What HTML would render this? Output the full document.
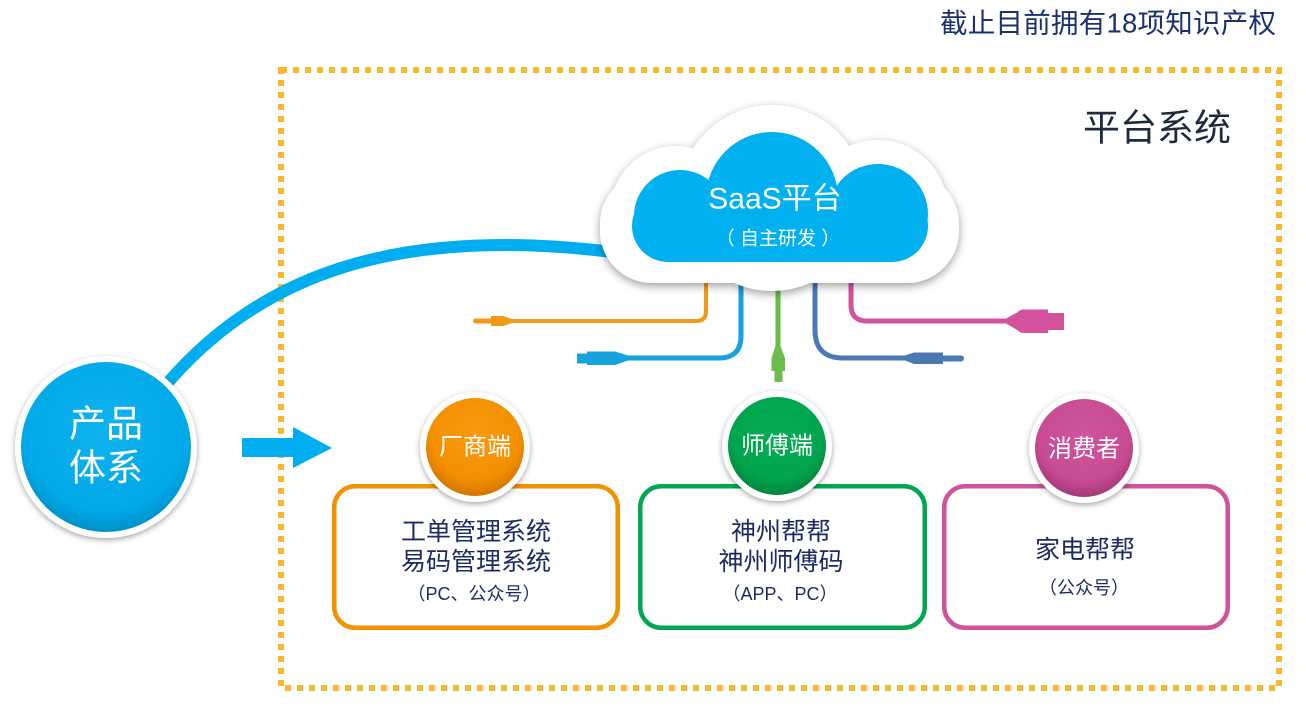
<!DOCTYPE html>
<html>
<head>
<meta charset="utf-8">
<style>
html,body{margin:0;padding:0;background:#fff;}
body{width:1306px;height:706px;overflow:hidden;}
svg{display:block;}
text{font-family:"Liberation Sans","Noto Sans CJK SC",sans-serif;white-space:pre;}
</style>
</head>
<body>
<svg width="1306" height="706" viewBox="0 0 1306 706" xmlns="http://www.w3.org/2000/svg">
<defs>
  <filter id="sh" x="-20%" y="-20%" width="140%" height="150%">
    <feDropShadow dx="0" dy="3" stdDeviation="4.5" flood-color="#000" flood-opacity="0.38"/>
  </filter>
  <filter id="csh" x="-30%" y="-30%" width="160%" height="160%">
    <feDropShadow dx="0" dy="2" stdDeviation="3" flood-color="#000" flood-opacity="0.35"/>
  </filter>
  <radialGradient id="gBlue" cx="50%" cy="40%" r="60%">
    <stop offset="0" stop-color="#0fb3ee"/>
    <stop offset="0.8" stop-color="#00a9e8"/>
    <stop offset="1" stop-color="#0090c8"/>
  </radialGradient>
  <radialGradient id="gOr" cx="50%" cy="38%" r="60%">
    <stop offset="0" stop-color="#f99a12"/>
    <stop offset="0.75" stop-color="#f39000"/>
    <stop offset="1" stop-color="#d67800"/>
  </radialGradient>
  <radialGradient id="gGr" cx="50%" cy="38%" r="60%">
    <stop offset="0" stop-color="#03ad55"/>
    <stop offset="0.75" stop-color="#00a54e"/>
    <stop offset="1" stop-color="#008a40"/>
  </radialGradient>
  <radialGradient id="gPk" cx="50%" cy="38%" r="60%">
    <stop offset="0" stop-color="#d0549b"/>
    <stop offset="0.75" stop-color="#c84c94"/>
    <stop offset="1" stop-color="#a83a7b"/>
  </radialGradient>
  <clipPath id="clipIn"><rect x="600" y="100" width="360" height="162"/></clipPath>
</defs>

<!-- top right text -->
<text x="1276" y="23" text-anchor="end" dominant-baseline="central" font-size="27.5" fill="#1a3170" textLength="336" lengthAdjust="spacing">截止目前拥有18项知识产权</text>

<!-- dotted frame -->
<rect x="281" y="70" width="998" height="618" fill="none" stroke="#f9b82a" stroke-width="6" stroke-dasharray="6 6"/>

<text x="1083" y="128" dominant-baseline="central" font-size="37" fill="#1e2b3c">平台系统</text>

<!-- big blue curve -->
<path d="M 160 392 C 258 272, 400 226, 612 252" fill="none" stroke="#00aeef" stroke-width="12"/>

<!-- cables -->
<!-- orange -->
<path d="M 706 270 L 706 311 Q 706 321 696 321 L 505 321" fill="none" stroke="#f29a15" stroke-width="4"/>
<path d="M 512 319 L 503 316 L 491 316 L 491 326 L 503 326 L 512 323 Z" fill="#f29a15"/>
<rect x="473" y="318.5" width="22" height="5" rx="2.5" fill="#f29a15"/>
<!-- light blue -->
<path d="M 741 270 L 741 336 Q 741 358 719 358 L 612 358" fill="none" stroke="#16a2dc" stroke-width="5"/>
<path d="M 628 355.5 L 615 351.5 L 587 351.5 L 587 365 L 615 365 L 628 360.5 Z" fill="#16a2dc"/>
<rect x="577" y="353.5" width="12" height="10" fill="#16a2dc"/>
<!-- green -->
<path d="M 778 270 L 778 352" fill="none" stroke="#6abd4a" stroke-width="5"/>
<path d="M 775.5 346 L 771.5 358 L 771.5 371 L 785 371 L 785 358 L 780.5 346 Z" fill="#6abd4a"/>
<rect x="774.5" y="370" width="8" height="12" fill="#6abd4a"/>
<!-- dark blue -->
<path d="M 815 270 L 815 330 Q 815 358 843 358 L 915 358" fill="none" stroke="#4a79b4" stroke-width="5"/>
<path d="M 905 355.5 L 914 352.5 L 943 352.5 L 943 364 L 914 364 L 905 360.5 Z" fill="#4a79b4"/>
<rect x="940" y="355.5" width="24" height="6" rx="3" fill="#4a79b4"/>
<!-- pink -->
<path d="M 851 270 L 851 305 Q 851 321 867 321 L 1012 321" fill="none" stroke="#d4519b" stroke-width="5"/>
<path d="M 1006 318.5 L 1018 312 Q 1020 309.5 1024 309.5 L 1048 309.5 L 1048 333 L 1024 333 Q 1020 333 1018 330.5 L 1006 323.5 Z" fill="#d4519b"/>
<rect x="1047" y="313" width="17" height="17" fill="#d4519b"/>

<!-- cloud outer -->
<g filter="url(#sh)" fill="#ffffff">
  <rect x="600" y="172" width="359" height="111" rx="52"/>
  <circle cx="676" cy="212" r="66"/>
  <circle cx="772" cy="198" r="93"/>
  <circle cx="878" cy="210" r="70"/>
</g>
<!-- cloud inner -->
<g fill="#00b0ef" clip-path="url(#clipIn)">
  <rect x="632" y="190" width="296" height="72" rx="36"/>
  <circle cx="680" cy="216" r="46"/>
  <circle cx="772" cy="198" r="66"/>
  <circle cx="878" cy="214" r="50"/>
  <rect x="680" y="200" width="200" height="62"/>
</g>
<text x="775" y="199" text-anchor="middle" dominant-baseline="central" font-size="30" fill="#ffffff">SaaS平台</text>
<text x="778" y="239" text-anchor="middle" dominant-baseline="central" font-size="19" fill="#ffffff">（ 自主研发 ）</text>

<!-- product circle -->
<circle cx="106" cy="447" r="91" fill="#ffffff" filter="url(#csh)"/>
<circle cx="106" cy="447" r="85" fill="url(#gBlue)"/>
<text x="106" y="424" text-anchor="middle" dominant-baseline="central" font-size="37" fill="#ffffff">产品</text>
<text x="106" y="468" text-anchor="middle" dominant-baseline="central" font-size="37" fill="#ffffff">体系</text>

<!-- arrow -->
<path d="M 242 438 L 293 438 L 293 427 L 332 448 L 293 468 L 293 457 L 242 457 Z" fill="#00aeef"/>

<!-- boxes -->
<rect x="334.25" y="486.25" width="283.5" height="141.5" rx="21" fill="#fff" stroke="#f39200" stroke-width="4.5"/>
<rect x="640.25" y="486.25" width="284.5" height="141.5" rx="21" fill="#fff" stroke="#00a651" stroke-width="4.5"/>
<rect x="944.25" y="486.25" width="283.5" height="141.5" rx="21" fill="#fff" stroke="#d0529a" stroke-width="4.5"/>

<!-- box texts -->
<g fill="#1b2c63" text-anchor="middle" dominant-baseline="central">
  <text x="476" y="532" font-size="25">工单管理系统</text>
  <text x="476" y="562" font-size="25">易码管理系统</text>
  <text x="474" y="594" font-size="18">（PC、公众号）</text>
  <text x="781" y="532" font-size="25">神州帮帮</text>
  <text x="781" y="562" font-size="25">神州师傅码</text>
  <text x="780" y="594" font-size="18">（APP、PC）</text>
  <text x="1085" y="550" font-size="25">家电帮帮</text>
  <text x="1084" y="588" font-size="18">（公众号）</text>
</g>

<!-- role circles -->
<circle cx="475" cy="447" r="55" fill="#fff" filter="url(#csh)"/>
<circle cx="475" cy="447" r="49" fill="url(#gOr)"/>
<text x="475" y="447" text-anchor="middle" dominant-baseline="central" font-size="24" fill="#fff">厂商端</text>

<circle cx="777" cy="446" r="55" fill="#fff" filter="url(#csh)"/>
<circle cx="777" cy="446" r="49" fill="url(#gGr)"/>
<text x="777" y="446" text-anchor="middle" dominant-baseline="central" font-size="24" fill="#fff">师傅端</text>

<circle cx="1084" cy="448" r="55" fill="#fff" filter="url(#csh)"/>
<circle cx="1084" cy="448" r="49" fill="url(#gPk)"/>
<text x="1084" y="449" text-anchor="middle" dominant-baseline="central" font-size="24" fill="#fff">消费者</text>
</svg>
</body>
</html>
